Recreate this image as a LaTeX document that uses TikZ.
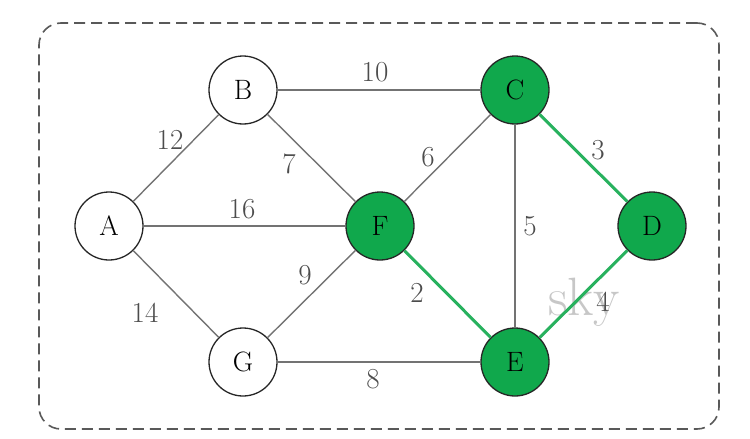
\documentclass[tikz,border=0pt]{standalone}
\begin{document}
\begin{tikzpicture}[x=1pt,y=-1pt,
  vert/.style={circle,draw=black!85,line width=1.3pt,minimum size=68pt,inner sep=0pt,font=\fontsize{28}{30}\selectfont},
  plain/.style={vert,fill=white},
  chosen/.style={vert,fill=mstgreen},
  edge/.style={draw=black!55,line width=1.4pt},
  mst/.style={draw=mstgreen!90!white,line width=3pt},
  wt/.style={font=\fontsize{29}{31}\selectfont,text=black!70,inner sep=0pt}]
\definecolor{mstgreen}{RGB}{16,168,76}
\useasboundingbox (0,0) rectangle (750,439);
\node[draw=black!65,dash pattern=on 11pt off 6pt,line width=1.6pt,rounded corners=22pt,minimum width=680pt,minimum height=406pt,inner sep=0pt] (frame) at (379,226) {};
\node[plain]  (A) at (109,226) {A};
\node[plain]  (B) at (243,90)  {B};
\node[chosen] (C) at (515,90)  {C};
\node[chosen] (D) at (652,226) {D};
\node[chosen] (E) at (515,362) {E};
\node[chosen] (F) at (380,226) {F};
\node[plain]  (G) at (243,362) {G};
\node[text=black!22,font=\fontsize{54}{56}\selectfont,inner sep=0pt] (sky) at (584,302) {sky};
\path[edge] (A) -- (B);
\path[edge] (A) -- (F);
\path[edge] (A) -- (G);
\path[edge] (B) -- (C);
\path[edge] (B) -- (F);
\path[edge] (F) -- (C);
\path[edge] (G) -- (F);
\path[edge] (G) -- (E);
\path[edge] (C) -- (E);
\path[mst] (C) -- (D);
\path[mst] (F) -- (E);
\path[mst] (E) -- (D);
\node[wt] (w12) at (170,140) {12};
\node[wt] (w7)  at (289,164) {7};
\node[wt] (w10) at (375,72)  {10};
\node[wt] (w6)  at (428,157) {6};
\node[wt] (w16) at (242,209) {16};
\node[wt] (w3)  at (598,150) {3};
\node[wt] (w5)  at (530,226) {5};
\node[wt] (w9)  at (305,275) {9};
\node[wt] (w2)  at (417,293) {2};
\node[wt] (w4)  at (603,302) {4};
\node[wt] (w14) at (145,313) {14};
\node[wt] (w8)  at (373,379) {8};
\end{tikzpicture}
\end{document}
